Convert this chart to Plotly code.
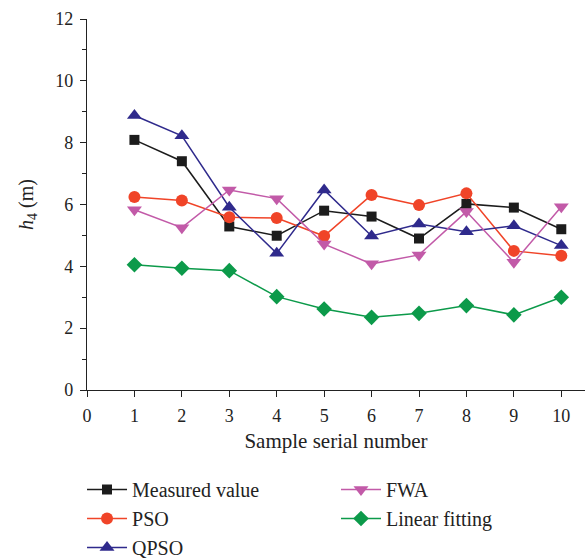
import plotly.graph_objects as go

samples = [1, 2, 3, 4, 5, 6, 7, 8, 9, 10]
measured = [8.09, 7.40, 5.29, 4.99, 5.80, 5.61, 4.90, 6.02, 5.90, 5.20]
pso = [6.24, 6.13, 5.59, 5.56, 4.98, 6.31, 5.98, 6.36, 4.50, 4.34]
qpso = [8.88, 8.22, 5.91, 4.42, 6.47, 4.98, 5.37, 5.12, 5.31, 4.67]
fwa = [5.83, 5.25, 6.47, 6.19, 4.72, 4.08, 4.37, 5.77, 4.13, 5.93]
linear = [4.05, 3.94, 3.86, 3.02, 2.62, 2.35, 2.48, 2.73, 2.43, 3.00]

series = [
    ("Measured value", measured, "#1c1c1c", "square", 10, "legend"),
    ("PSO", pso, "#f04428", "circle", 12, "legend"),
    ("QPSO", qpso, "#2f2a8c", "triangle-up", 13, "legend"),
    ("FWA", fwa, "#c25aa8", "triangle-down", 13, "legend2"),
    ("Linear fitting", linear, "#0c9a4a", "diamond", 12, "legend2"),
]

fig = go.Figure()
for name, vals, col, sym, sz, lg in series:
    fig.add_trace(go.Scatter(
        x=samples, y=vals, name=name, mode="lines+markers",
        line=dict(color=col, width=1.5),
        marker=dict(symbol=sym, size=sz, color=col),
        legend=lg,
    ))

font = "Liberation Serif, Times New Roman, serif"
leg_y = 1 - 470 / 559
fig.update_layout(
    width=587, height=559,
    margin=dict(l=87, r=2, t=19, b=169, autoexpand=False),
    paper_bgcolor="white", plot_bgcolor="white",
    font=dict(family=font, size=18, color="#222"),
    showlegend=True,
    legend=dict(x=-0.01, y=leg_y, yref="container", xanchor="left", yanchor="top",
                font=dict(size=20, family=font), bgcolor="rgba(0,0,0,0)",
                itemwidth=40, tracegroupgap=0),
    legend2=dict(x=0.5, y=leg_y, yref="container", xanchor="left", yanchor="top",
                 font=dict(size=20, family=font), bgcolor="rgba(0,0,0,0)",
                 itemwidth=40, tracegroupgap=0),
    xaxis=dict(
        range=[0, 10.5], tickmode="array", tickvals=list(range(0, 11)),
        showline=True, linecolor="#222", linewidth=1.3,
        ticks="outside", ticklen=6, tickcolor="#222", tickwidth=1.2,
        showgrid=False, zeroline=False, automargin=False, ticklabelstandoff=3,
        tickfont=dict(size=18, family=font),
        title=dict(text="Sample serial number", font=dict(size=21, family=font), standoff=8),
    ),
    yaxis=dict(
        range=[0, 12], tickmode="array", tickvals=[0, 2, 4, 6, 8, 10, 12],
        showline=True, linecolor="#222", linewidth=1.3,
        ticks="outside", ticklen=6, tickcolor="#222", tickwidth=1.2,
        minor=dict(tickvals=[1, 3, 5, 7, 9, 11], ticks="outside", ticklen=4, tickcolor="#222", tickwidth=1.2),
        showgrid=False, zeroline=False, automargin=False, ticklabelstandoff=3,
        tickfont=dict(size=18, family=font),
        title=dict(text="<i>h</i><sub>4</sub> (m)", font=dict(size=20, family=font), standoff=16),
    ),
)

fig.write_html("out.html")
